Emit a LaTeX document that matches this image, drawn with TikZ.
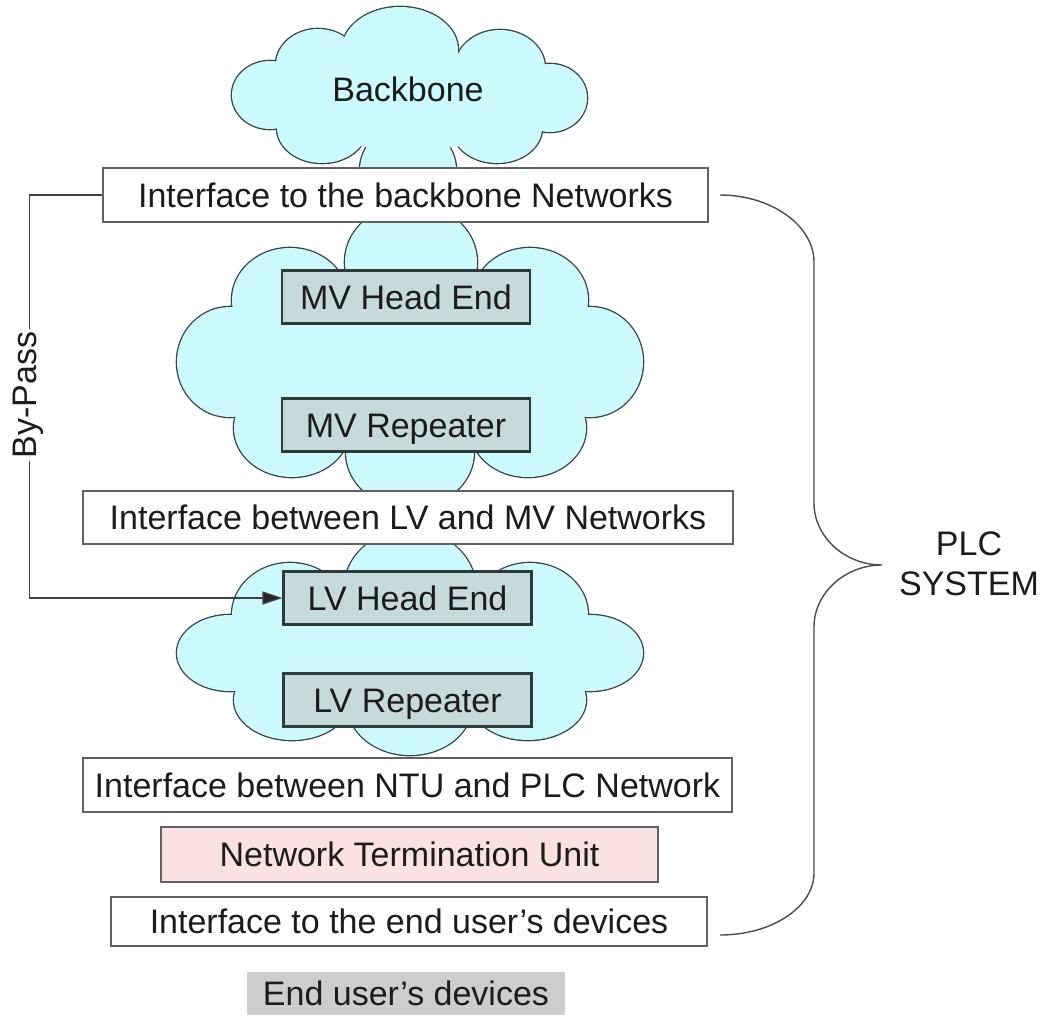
\documentclass[tikz,border=0pt]{standalone}
\usepackage{fontspec}
\setmainfont{Liberation Sans}
\usetikzlibrary{arrows.meta}
\definecolor{cloudc}{RGB}{204,250,252}
\definecolor{cloudl}{RGB}{55,66,66}
\definecolor{innerc}{RGB}{198,218,220}
\definecolor{innerl}{RGB}{45,58,58}
\definecolor{ntuc}{RGB}{251,226,226}
\definecolor{devc}{RGB}{205,205,205}
\definecolor{txtc}{RGB}{28,28,28}
\newcommand{\apos}{\char"0027\relax}
\begin{document}
\begin{tikzpicture}[x=1pt,y=-1pt,
  every node/.style={font=\fontsize{34}{40}\selectfont, text=txtc},
  ifbox/.style={draw=black!62, line width=1.4pt, fill=white, inner sep=0pt, text height=24pt, text depth=0pt},
  innerbox/.style={draw=innerl, line width=2.2pt, fill=innerc, inner sep=0pt, text height=24pt, text depth=0pt, minimum width=248pt, minimum height=53pt},
  cloudline/.style={draw=cloudl, line width=2.6pt},
  cloudfill/.style={fill=cloudc},
  link/.style={draw=black!75, line width=1.4pt},
  bracestyle/.style={draw=black!70, line width=1.4pt}
]
\useasboundingbox (0,0) rectangle (1043,1020);
\fill[white] (0,0) rectangle (1043,1020);

% ---- clouds: lobes stroked thick, then filled ----
\def\bblobes{408/170/48/45, 400/50/58/43, 500/68/45/38, 550/98/37/34, 497/128/45/35, 322/128/45/35, 270/95/38/34, 318/65/42/36}
\def\mvlobes{411/262/66/58, 530/300/58/52, 590/362/53/55, 528/428/58/49, 410/452/64/56, 292/428/58/49, 230/362/53/55, 290/300/58/52}
\def\lvlobes{410/590/66/60, 530/615/58/52, 590/653/53/38, 528/700/58/40, 410/705/62/50, 292/700/58/40, 230/653/53/38, 290/615/58/52}

\foreach \cx/\cy/\rx/\ry in \bblobes {\draw[cloudline] (\cx,\cy) ellipse[x radius=\rx, y radius=\ry];}
\foreach \cx/\cy/\rx/\ry in \bblobes {\fill[cloudfill] (\cx,\cy) ellipse[x radius=\rx, y radius=\ry];}
\fill[cloudfill] (410,100) ellipse[x radius=130, y radius=50];

\foreach \cx/\cy/\rx/\ry in \mvlobes {\draw[cloudline] (\cx,\cy) ellipse[x radius=\rx, y radius=\ry];}
\foreach \cx/\cy/\rx/\ry in \mvlobes {\fill[cloudfill] (\cx,\cy) ellipse[x radius=\rx, y radius=\ry];}
\fill[cloudfill] (410,362) ellipse[x radius=185, y radius=95];

\foreach \cx/\cy/\rx/\ry in \lvlobes {\draw[cloudline] (\cx,\cy) ellipse[x radius=\rx, y radius=\ry];}
\foreach \cx/\cy/\rx/\ry in \lvlobes {\fill[cloudfill] (\cx,\cy) ellipse[x radius=\rx, y radius=\ry];}
\fill[cloudfill] (410,655) ellipse[x radius=185, y radius=55];

% ---- nodes ----
\node (bb) at (408,89) {Backbone};
\node[ifbox, minimum width=605pt, minimum height=54pt] (ifbb) at (405.5,195) {Interface to the backbone Networks};
\node[innerbox] (mvhe) at (406,297) {MV Head End};
\node[innerbox] (mvrep) at (406,425) {MV Repeater};
\node[ifbox, minimum width=650pt, minimum height=53pt] (iflvmv) at (408,517.5) {Interface between LV and MV Networks};
\node[innerbox] (lvhe) at (407.5,598) {LV Head End};
\node[innerbox] (lvrep) at (407.5,700) {LV Repeater};
\node[ifbox, minimum width=649pt, minimum height=54pt] (ifntu) at (407.5,785) {Interface between NTU and PLC Network};
\node[ifbox, fill=ntuc, minimum width=497pt, minimum height=55pt] (ntu) at (409.5,854.5) {Network Termination Unit};
\node[ifbox, minimum width=596pt, minimum height=49pt] (ifend) at (409,921.5) {Interface to the end user\apos s devices};
\node[fill=devc, inner sep=0pt, text height=24pt, text depth=0pt, minimum width=318pt, minimum height=43pt] (enddev) at (406,993.5) {End user\apos s devices};

% ---- by-pass ----
\draw[link, -{Triangle[length=20pt,width=13pt,fill=black!85]}] (ifbb.west) -- ++(-73,0) |- (lvhe.west);
\node[rotate=90, fill=white, inner sep=3pt] (bp) at (28,395) {By-Pass};

% ---- brace ----
\coordinate (btop) at (720,195);
\coordinate (btip) at (882,565);
\coordinate (bbot) at (720,935);
\draw[bracestyle] (btop) .. controls (772,195) and (814,226) .. (814,262) -- (814,503)
  .. controls (814,537) and (845,565) .. (btip)
  .. controls (845,565) and (814,593) .. (814,627) -- (814,873)
  .. controls (814,907) and (772,935) .. (bbot);
\node[align=center] (plc) at (969,564) {PLC\\SYSTEM};
\end{tikzpicture}
\end{document}
